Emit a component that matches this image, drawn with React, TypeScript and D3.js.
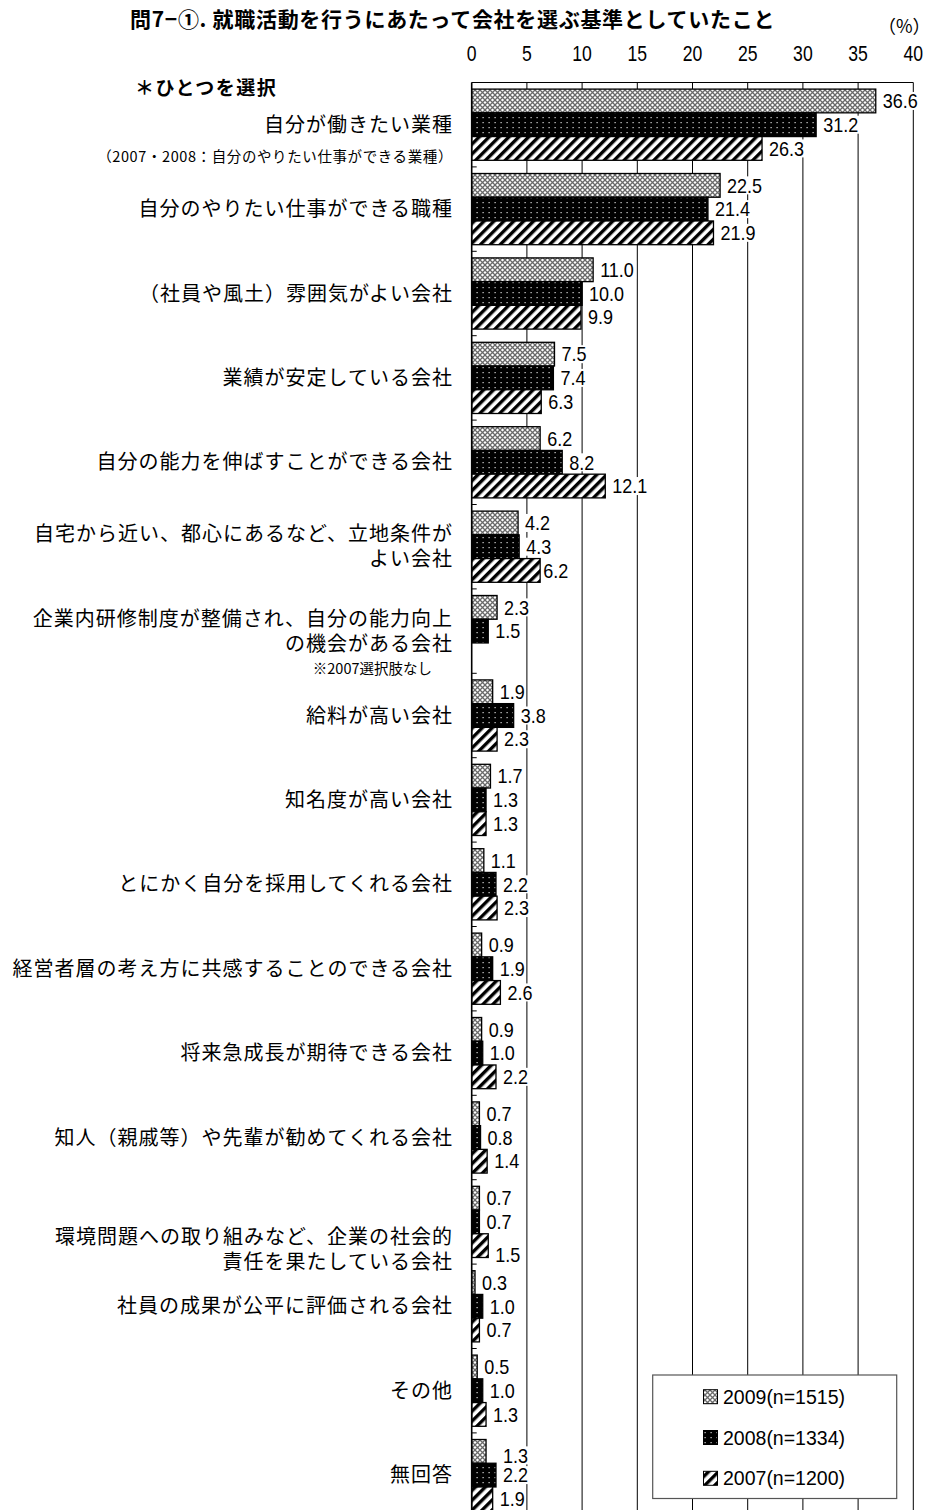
import React from "react";
import * as d3 from "d3";

// Survey: criteria used when choosing a company during job hunting (single choice, %)
const categories: string[][] = [
  ["自分が働きたい業種"],
  ["自分のやりたい仕事ができる職種"],
  ["（社員や風土）雰囲気がよい会社"],
  ["業績が安定している会社"],
  ["自分の能力を伸ばすことができる会社"],
  ["自宅から近い、都心にあるなど、立地条件が", "よい会社"],
  ["企業内研修制度が整備され、自分の能力向上", "の機会がある会社"],
  ["給料が高い会社"],
  ["知名度が高い会社"],
  ["とにかく自分を採用してくれる会社 "],
  ["経営者層の考え方に共感することのできる会社"],
  ["将来急成長が期待できる会社"],
  ["知人（親戚等）や先輩が勧めてくれる会社 "],
  ["環境問題への取り組みなど、企業の社会的", "責任を果たしている会社"],
  ["社員の成果が公平に評価される会社"],
  ["その他"],
  ["無回答"],
];

const values2009: number[] = [36.6, 22.5, 11.0, 7.5, 6.2, 4.2, 2.3, 1.9, 1.7, 1.1, 0.9, 0.9, 0.7, 0.7, 0.3, 0.5, 1.3];
const values2008: number[] = [31.2, 21.4, 10.0, 7.4, 8.2, 4.3, 1.5, 3.8, 1.3, 2.2, 1.9, 1.0, 0.8, 0.7, 1.0, 1.0, 2.2];
const values2007: (number | null)[] = [26.3, 21.9, 9.9, 6.3, 12.1, 6.2, null, 2.3, 1.3, 2.3, 2.6, 2.2, 1.4, 1.5, 0.7, 1.3, 1.9];

const seriesNames: string[] = ["2009(n=1515)", "2008(n=1334)", "2007(n=1200)"];
const xTicks: number[] = [0, 5, 10, 15, 20, 25, 30, 35, 40];

const title = "問7−①. 就職活動を行うにあたって会社を選ぶ基準としていたこと";
const unitLabel = "（%）";
const instruction = "＊ひとつを選択";
const subNote0 = "（2007・2008：自分のやりたい仕事ができる業種）";
const subNote6 = "※2007選択肢なし";

const series = [
  { key: "s2009", name: seriesNames[0], values: values2009, fill: "url(#p2009)" },
  { key: "s2008", name: seriesNames[1], values: values2008, fill: "url(#p2008)" },
  { key: "s2007", name: seriesNames[2], values: values2007, fill: "url(#p2007)" },
];

// a few data labels were nudged by hand in the layout
const labelNudge: Record<string, [number, number]> = {
  "s2007-13": [0, 9],
  "s2009-16": [10, 4],
  "s2007-5": [-4, 0],
};

const JP = "'Noto Sans CJK JP', 'Noto Sans', sans-serif";
const NUM = "'Liberation Sans', Arial, sans-serif";

const W = 939;
const H = 1510;
const plotTop = 82.5;
const groupStep = 84.4;

export default function App() {
  const x = d3.scaleLinear().domain([0, 40]).range([471.7, 913.3]);
  const y0 = d3
    .scaleBand<number>()
    .domain(d3.range(categories.length))
    .range([plotTop, plotTop + categories.length * groupStep]);
  const y1 = d3
    .scaleBand<string>()
    .domain(series.map((s) => s.key))
    .range([6.6, groupStep - 6.6]);

  const x0 = x(0);
  const valueFontSize = 20;
  const valueScaleX = 0.9;
  const labelWidth = (t: string) =>
    Array.from(t).reduce((w, c) => w + (c === "." ? 0.278 : 0.556) * valueFontSize * valueScaleX, 0);

  return (
    <svg
      width={W}
      height={H}
      viewBox={`0 0 ${W} ${H}`}
      style={{ position: "absolute", left: 0, top: 0, display: "block", background: "#fff" }}
    >
      <defs>
        <pattern id="p2009" width="5" height="5" patternUnits="userSpaceOnUse">
          <rect width="5" height="5" fill="#fff" />
          <path d="M0,0 L5,5 M5,0 L0,5" stroke="#6a6a6a" strokeWidth="1.3" />
        </pattern>
        <pattern id="p2008" width="6" height="5" patternUnits="userSpaceOnUse">
          <rect width="6" height="5" fill="#000" />
          <rect x="2.5" y="2" width="1.2" height="1.2" fill="#d8d8d8" />
        </pattern>
        <pattern
          id="p2007"
          width="7"
          height="7"
          patternUnits="userSpaceOnUse"
          patternTransform="rotate(45)"
        >
          <rect width="7" height="7" fill="#fff" />
          <rect width="3.4" height="7" fill="#000" />
        </pattern>
      </defs>

      {/* title */}
      <text x={130} y={20} dy="0.35em" fontFamily={JP} fontWeight="bold" fontSize={21} letterSpacing={0.7}>
        {title}
      </text>
      <text x={878} y={27} dy="0.35em" fontFamily={JP} fontSize={18}>
        {unitLabel}
      </text>

      {/* x ticks on top */}
      {xTicks.map((t) => (
        <text
          key={"xt" + t}
          transform={`translate(${x(t)},53) scale(0.8,1)`}
          dy="0.36em"
          textAnchor="middle"
          fontFamily={NUM}
          fontSize={22}
        >
          {t}
        </text>
      ))}

      {/* grid lines */}
      {xTicks.slice(1).map((t) => (
        <line
          key={"g" + t}
          x1={x(t)}
          x2={x(t)}
          y1={plotTop}
          y2={H}
          stroke="#000"
          strokeWidth={1}
        />
      ))}
      <line x1={x0} x2={x(40)} y1={plotTop} y2={plotTop} stroke="#000" strokeWidth={1} />

      {/* bars */}
      {categories.map((_, i) =>
        series.map((s) => {
          const v = s.values[i];
          if (v == null) return null;
          const yy = (y0(i) as number) + (y1(s.key) as number);
          return (
            <rect
              key={s.key + i}
              x={x0}
              y={yy}
              width={x(v) - x0}
              height={y1.bandwidth()}
              fill={s.fill}
              stroke="#000"
              strokeWidth={1.3}
            />
          );
        })
      )}

      {/* value axis line + category ticks */}
      <line x1={x0} x2={x0} y1={plotTop} y2={H} stroke="#000" strokeWidth={1.6} />
      {d3.range(categories.length + 1).map((i) => (
        <line
          key={"ct" + i}
          x1={x0}
          x2={x0 + 5}
          y1={plotTop + i * groupStep}
          y2={plotTop + i * groupStep}
          stroke="#000"
          strokeWidth={1}
        />
      ))}

      {/* value labels */}
      {categories.map((_, i) =>
        series.map((s) => {
          const v = s.values[i];
          if (v == null) return null;
          const t = v.toFixed(1);
          const [ndx, ndy] = labelNudge[`${s.key}-${i}`] || [0, 0];
          const cy = (y0(i) as number) + (y1(s.key) as number) + y1.bandwidth() / 2 + ndy;
          const lx = x(v) + 7 + ndx;
          const w = labelWidth(t);
          return (
            <g key={"l" + s.key + i}>
              <rect x={lx - 1} y={cy - 9} width={w + 2} height={18} fill="#fff" />
              <text
                transform={`translate(${lx},${cy}) scale(${valueScaleX},1)`}
                dy="0.36em"
                fontFamily={NUM}
                fontSize={valueFontSize}
              >
                {t}
              </text>
            </g>
          );
        })
      )}

      {/* category labels */}
      <text x={135} y={88} dy="0.35em" fontFamily={JP} fontWeight="bold" fontSize={19} letterSpacing={1.5}>
        {instruction}
      </text>
      {categories.map((lines, i) => {
        const cy = (y0(i) as number) + y0.bandwidth() / 2 + (i === 13 ? 27.5 : 0);
        const lh = 25;
        const start = cy - ((lines.length - 1) * lh) / 2;
        return (
          <text
            key={"cat" + i}
            textAnchor="end"
            fontFamily={JP}
            fontSize={20}
            letterSpacing={1}
          >
            {lines.map((ln, k) => (
              <tspan key={k} x={453} y={start + k * lh} dy="0.35em">
                {ln}
              </tspan>
            ))}
          </text>
        );
      })}
      <text
        x={453}
        y={(y0(0) as number) + y0.bandwidth() / 2 + 32}
        dy="0.35em"
        textAnchor="end"
        fontFamily={JP}
        fontSize={14.5}
        letterSpacing={0.6}
      >
        {subNote0}
      </text>
      <text
        x={432}
        y={(y0(6) as number) + y0.bandwidth() / 2 + 37.5}
        dy="0.35em"
        textAnchor="end"
        fontFamily={JP}
        fontSize={14.5}
      >
        {subNote6}
      </text>

      {/* legend */}
      <g>
        <rect x={652.7} y={1375} width={244} height={123.5} fill="#fff" stroke="#555" strokeWidth={1.2} />
        {series.map((s, k) => {
          const cy = 1396.7 + k * 40.8;
          return (
            <g key={"lg" + s.key}>
              <rect x={703.5} y={cy - 7} width={14} height={14} fill={s.fill} stroke="#000" strokeWidth={1} />
              <text x={723} y={cy} dy="0.36em" fontFamily={NUM} fontSize={19.5}>
                {s.name}
              </text>
            </g>
          );
        })}
      </g>
    </svg>
  );
}
